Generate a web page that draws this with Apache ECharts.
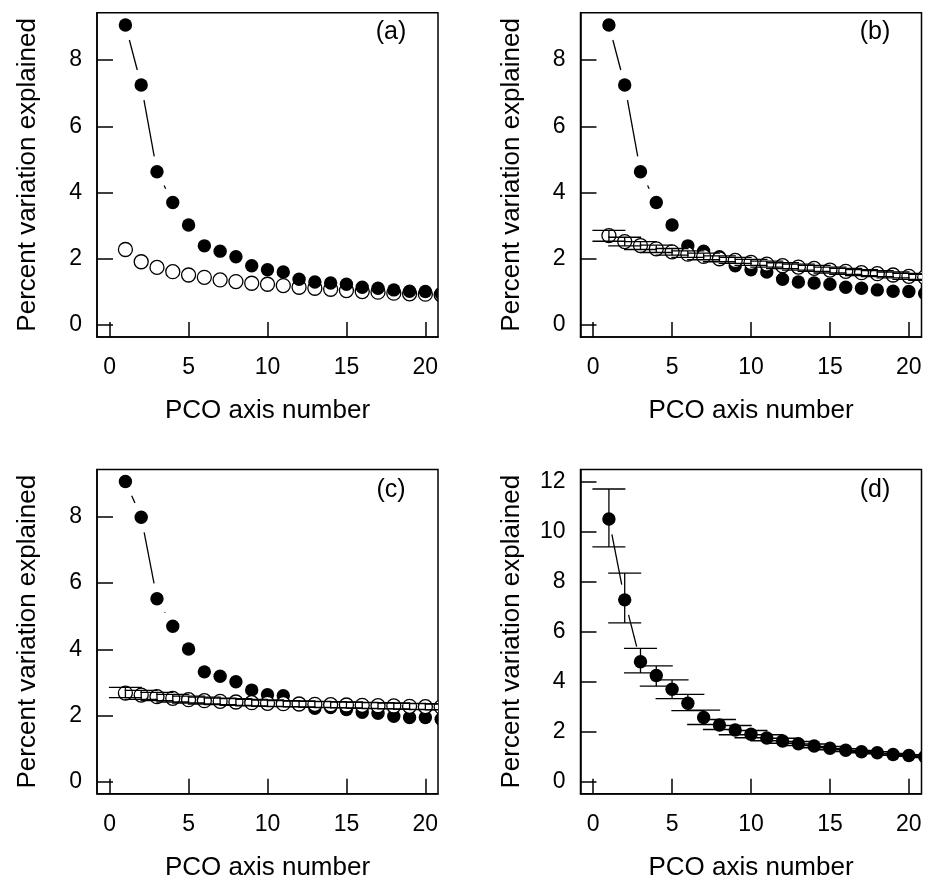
<!DOCTYPE html>
<html>
<head>
<meta charset="utf-8">
<script src="https://cdn.jsdelivr.net/npm/echarts@6/dist/echarts.min.js"></script>
<style>
html,body{margin:0;padding:0;background:#fff;}
#chart{width:933px;height:881px;}
</style>
</head>
<body>
<div id="chart"></div>
<script>
// ---------- data ----------
const pcoAxis = [1,2,3,4,5,6,7,8,9,10,11,12,13,14,15,16,17,18,19,20,21];
const xTicks = [0,5,10,15,20];
const yTicksABC = [0,2,4,6,8];
const yTicksD = [0,2,4,6,8,10,12];
const panelLabels = ['(a)','(b)','(c)','(d)'];
const xName = 'PCO axis number';
const yName = 'Percent variation explained';

// observed percent variation (panels a and b)
const observedAB = [9.06,7.25,4.63,3.70,3.02,2.39,2.23,2.06,1.79,1.67,1.60,1.38,1.30,1.27,1.23,1.14,1.11,1.06,1.02,1.01,0.95];
// reference model, panel a (open circles)
const nullA = [2.28,1.91,1.74,1.61,1.51,1.44,1.36,1.31,1.26,1.23,1.19,1.14,1.11,1.08,1.04,1.01,0.99,0.96,0.94,0.93,0.91];
// null model, panel b (open circles) with interval
const nullB  = [2.70,2.52,2.40,2.30,2.21,2.14,2.07,2.00,1.95,1.89,1.84,1.79,1.75,1.71,1.66,1.62,1.58,1.55,1.51,1.47,1.44];
const lowerB = [2.53,2.39,2.28,2.19,2.11,2.04,1.97,1.91,1.86,1.80,1.75,1.70,1.66,1.62,1.57,1.53,1.49,1.46,1.42,1.38,1.35];
const upperB = [2.86,2.65,2.52,2.41,2.31,2.24,2.17,2.09,2.04,1.98,1.93,1.88,1.84,1.80,1.75,1.71,1.67,1.64,1.60,1.56,1.53];
// panel c
const observedC = [9.07,7.99,5.53,4.70,4.01,3.32,3.19,3.02,2.77,2.63,2.60,2.34,2.22,2.24,2.18,2.10,2.07,1.98,1.94,1.94,1.89];
const nullC  = [2.68,2.62,2.57,2.52,2.48,2.45,2.43,2.41,2.39,2.37,2.36,2.35,2.34,2.33,2.32,2.31,2.30,2.29,2.28,2.27,2.26];
const lowerC = [2.54,2.49,2.45,2.41,2.38,2.35,2.33,2.31,2.29,2.28,2.27,2.26,2.25,2.24,2.23,2.22,2.21,2.20,2.19,2.18,2.17];
const upperC = [2.85,2.76,2.70,2.64,2.59,2.56,2.53,2.51,2.49,2.47,2.45,2.44,2.43,2.42,2.41,2.40,2.39,2.38,2.37,2.36,2.35];
// panel d
const observedD = [10.50,7.27,4.80,4.25,3.70,3.14,2.57,2.27,2.07,1.90,1.75,1.63,1.52,1.43,1.34,1.26,1.20,1.16,1.09,1.05,1.00];
const lowerD = [9.39,6.35,4.35,3.82,3.32,2.84,2.29,2.09,1.88,1.76,1.64,1.54,1.45,1.36,1.28,1.21,1.16,1.12,1.06,1.02,0.97];
const upperD = [11.70,8.34,5.33,4.63,4.07,3.49,2.86,2.49,2.25,2.05,1.88,1.74,1.61,1.51,1.41,1.32,1.25,1.20,1.13,1.08,1.03];

// ---------- styling ----------
const FONT = '"Liberation Sans", Arial, Helvetica, sans-serif';
const grids = [
  {left:97,    top:12.7,  width:341, height:324.3},
  {left:580.5, top:12.7,  width:341, height:324.3},
  {left:97,    top:469.5, width:341, height:324.3},
  {left:580.5, top:469.5, width:341, height:324.3}
];
const yRanges = [[-0.363,9.433],[-0.363,9.433],[-0.363,9.433],[-0.48,12.48]];
const labelPos = [[391,32.5],[875,32.5],[391,490],[875,490]];

function pairs(xs, ys){ return xs.map((x,i)=>[x, ys[i]]); }
function segs(xs, ys){ const out=[]; for(let i=0;i<xs.length-1;i++) out.push([xs[i],ys[i],xs[i+1],ys[i+1]]); return out; }
function bars(xs, lo, hi){ return xs.map((x,i)=>[x, lo[i], hi[i]]); }

function circleSeries(idx, data, r, fill, stroke, lw, z){
  return {
    type:'custom', xAxisIndex:idx, yAxisIndex:idx, clip:true, z:z, silent:true,
    data:data,
    renderItem:function(params, api){
      const p = api.coord([api.value(0), api.value(1)]);
      return {type:'circle', shape:{cx:p[0], cy:p[1], r:r},
        style:{fill:fill, stroke:stroke, lineWidth:lw}};
    }
  };
}
function segmentSeries(idx, data, z){
  const GAP = 15.5;
  return {
    type:'custom', xAxisIndex:idx, yAxisIndex:idx, clip:true, z:z, silent:true,
    data:data,
    renderItem:function(params, api){
      const a = api.coord([api.value(0), api.value(1)]);
      const b = api.coord([api.value(2), api.value(3)]);
      const dx=b[0]-a[0], dy=b[1]-a[1];
      const len=Math.sqrt(dx*dx+dy*dy);
      if (len <= 2*GAP) return {type:'group', children:[]};
      const ux=dx/len, uy=dy/len;
      return {type:'line', shape:{x1:a[0]+ux*GAP, y1:a[1]+uy*GAP, x2:b[0]-ux*GAP, y2:b[1]-uy*GAP},
        style:{stroke:'#000', lineWidth:1.3}};
    }
  };
}
function errorSeries(idx, data, z){
  const CAP = 16.5;
  return {
    type:'custom', xAxisIndex:idx, yAxisIndex:idx, clip:true, z:z, silent:true,
    data:data,
    renderItem:function(params, api){
      const lo = api.coord([api.value(0), api.value(1)]);
      const hi = api.coord([api.value(0), api.value(2)]);
      const st = {stroke:'#000', lineWidth:1.3};
      return {type:'group', children:[
        {type:'line', shape:{x1:lo[0], y1:lo[1], x2:hi[0], y2:hi[1]}, style:st},
        {type:'line', shape:{x1:lo[0]-CAP, y1:lo[1], x2:lo[0]+CAP, y2:lo[1]}, style:st},
        {type:'line', shape:{x1:hi[0]-CAP, y1:hi[1], x2:hi[0]+CAP, y2:hi[1]}, style:st}
      ]};
    }
  };
}

const AXLINE = {show:true, onZero:false, lineStyle:{color:'#000', width:1.5}};
const xAxes = grids.map((g,i)=>({
  type:'value', gridIndex:i, min:-0.8, max:20.8, position:'bottom',
  name:xName, nameLocation:'middle', nameGap:61,
  nameTextStyle:{fontSize:26, color:'#000', fontFamily:FONT},
  axisLine:AXLINE,
  axisTick:{show:true, inside:true, length:15, customValues:xTicks, lineStyle:{color:'#000', width:1.5}},
  axisLabel:{show:true, customValues:xTicks, margin:19, fontSize:23, color:'#000', fontFamily:FONT},
  splitLine:{show:false}
}));
const yAxes = grids.map((g,i)=>({
  type:'value', gridIndex:i, min:yRanges[i][0], max:yRanges[i][1], position:'left',
  name:yName, nameLocation:'middle', nameGap:56,
  nameTextStyle:{fontSize:26, color:'#000', fontFamily:FONT},
  axisLine:AXLINE,
  axisTick:{show:true, inside:true, length:16, customValues:(i===3?yTicksD:yTicksABC), lineStyle:{color:'#000', width:1.5}},
  axisLabel:{show:true, customValues:(i===3?yTicksD:yTicksABC), margin:15, fontSize:23, color:'#000', fontFamily:FONT},
  splitLine:{show:false}
}));

const RF = 6.7, RO = 7.0;
const series = [
  // (a)
  segmentSeries(0, segs(pcoAxis, observedAB), 2),
  circleSeries(0, pairs(pcoAxis, nullA), RO, 'rgba(0,0,0,0)', '#000', 1.3, 3),
  circleSeries(0, pairs(pcoAxis, observedAB), RF, '#000', '#000', 0, 4),
  // (b)
  segmentSeries(1, segs(pcoAxis, observedAB), 2),
  circleSeries(1, pairs(pcoAxis, observedAB), RF, '#000', '#000', 0, 3),
  circleSeries(1, pairs(pcoAxis, nullB), RO, '#fff', '#000', 1.3, 4),
  errorSeries(1, bars(pcoAxis, lowerB, upperB), 5),
  // (c)
  segmentSeries(2, segs(pcoAxis, observedC), 2),
  circleSeries(2, pairs(pcoAxis, observedC), RF, '#000', '#000', 0, 3),
  circleSeries(2, pairs(pcoAxis, nullC), RO, '#fff', '#000', 1.3, 4),
  errorSeries(2, bars(pcoAxis, lowerC, upperC), 5),
  // (d)
  segmentSeries(3, segs(pcoAxis, observedD), 2),
  errorSeries(3, bars(pcoAxis, lowerD, upperD), 3),
  circleSeries(3, pairs(pcoAxis, observedD), RF, '#000', '#000', 0, 4)
];

const chart = echarts.init(document.getElementById('chart'), null, {renderer:'canvas'});
chart.setOption({
  backgroundColor:'#fff',
  animation:false,
  grid: grids.map(g=>Object.assign({show:true, borderColor:'#000', borderWidth:1.5, backgroundColor:'transparent', containLabel:false, outerBoundsMode:'none'}, g)),
  xAxis: xAxes,
  yAxis: yAxes,
  series: series,
  graphic: panelLabels.map((t,i)=>({
    type:'text', x:labelPos[i][0], y:labelPos[i][1], z:10,
    style:{text:t, fontSize:25, fontFamily:FONT, fill:'#000', align:'center', verticalAlign:'middle'}
  }))
});
</script>
</body>
</html>
